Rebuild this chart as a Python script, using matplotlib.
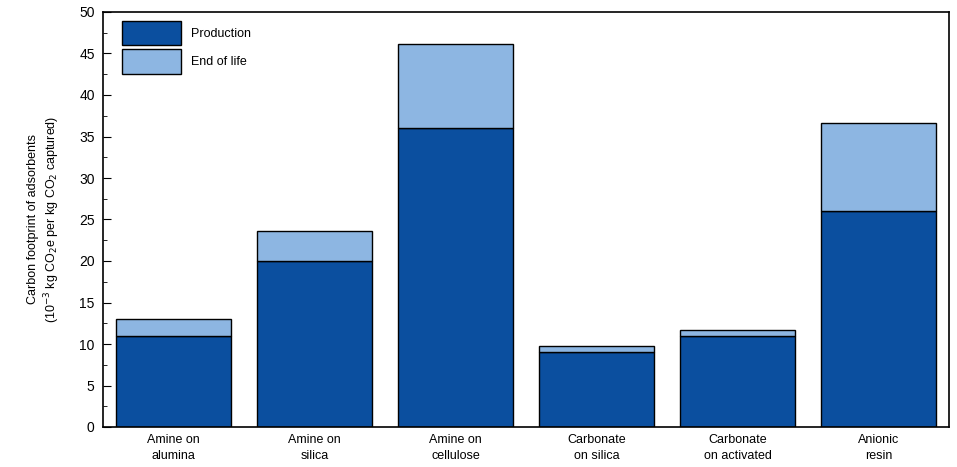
import matplotlib

matplotlib.use("Agg")
import matplotlib.pyplot as plt
from matplotlib.ticker import MultipleLocator

plt.rcParams["font.family"] = ["Liberation Sans", "DejaVu Sans"]

categories = [
    "Amine on\nalumina",
    "Amine on\nsilica",
    "Amine on\ncellulose",
    "Carbonate\non silica",
    "Carbonate\non activated",
    "Anionic\nresin",
]
production = [11.0, 20.0, 36.0, 9.0, 11.0, 26.0]
end_of_life = [2.0, 3.6, 10.2, 0.7, 0.7, 10.6]

dark_blue = "#0b4f9f"
light_blue = "#8db6e2"

fig = plt.figure(figsize=(9.57, 4.67), dpi=100)
ax = fig.add_axes([103 / 957, 40 / 467, 846 / 957, 415 / 467])

x = range(len(categories))
ax.bar(x, production, width=0.81, color=dark_blue, edgecolor="black",
       linewidth=1.0, label="Production")
ax.bar(x, end_of_life, width=0.81, bottom=production, color=light_blue,
       edgecolor="black", linewidth=1.0, label="End of life")

ax.set_xlim(-0.5, len(categories) - 0.5)
ax.set_ylim(0, 50)
ax.yaxis.set_major_locator(MultipleLocator(5))
ax.yaxis.set_minor_locator(MultipleLocator(2.5))
ax.tick_params(axis="y", which="both", direction="in", labelsize=10, pad=6)
ax.tick_params(axis="y", which="major", length=6)
ax.tick_params(axis="y", which="minor", length=3)
ax.set_xticks(list(x))
ax.set_xticklabels(categories, fontsize=9, linespacing=1.45)
ax.tick_params(axis="x", length=0, pad=5)
for s in ax.spines.values():
    s.set_linewidth(1.2)

ax.set_ylabel("Carbon footprint of adsorbents\n"
              "(10$^{-3}$ kg CO$_2$e per kg CO$_2$ captured)",
              fontsize=9, linespacing=1.3, labelpad=12)

ax.legend(loc="upper left", bbox_to_anchor=(0.012, 1.0), frameon=False,
          fontsize=9, handlelength=4.7, handleheight=2.6, handletextpad=0.8,
          labelspacing=0.35, borderaxespad=0.3)

fig.savefig("out.png", dpi=100)
